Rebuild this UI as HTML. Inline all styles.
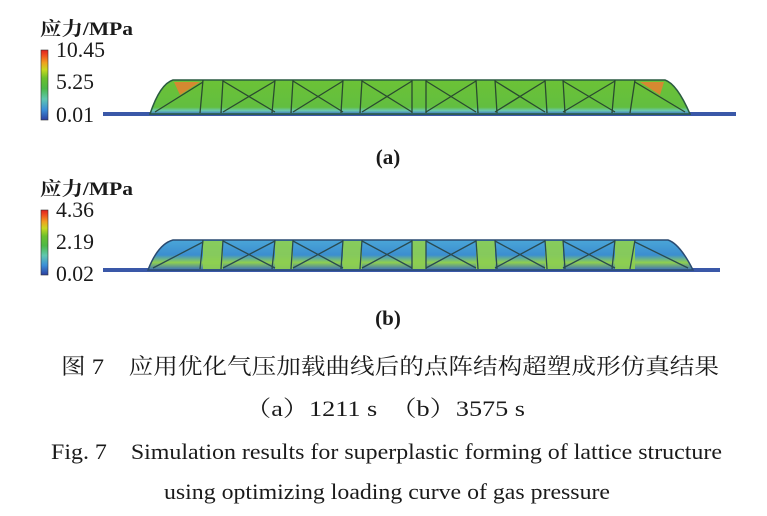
<!DOCTYPE html>
<html><head><meta charset="utf-8"><style>
body{margin:0;background:#fff;width:767px;height:516px;overflow:hidden;position:relative}
text{font-family:"Liberation Serif","Noto Serif CJK SC",serif;fill:#1a1a1a}
</style></head><body>
<svg width="767" height="516" style="position:absolute;left:0;top:0">
<defs>
<linearGradient id="cb1" x1="0" y1="1" x2="0" y2="0">
<stop offset="0" stop-color="#2c3fa0"/><stop offset="0.15" stop-color="#3a8fd8"/><stop offset="0.3" stop-color="#5fc7b0"/><stop offset="0.45" stop-color="#4cb848"/><stop offset="0.6" stop-color="#6cc02c"/><stop offset="0.72" stop-color="#c8d820"/><stop offset="0.82" stop-color="#f0a020"/><stop offset="0.92" stop-color="#f05020"/><stop offset="1" stop-color="#e02020"/>
</linearGradient>
<linearGradient id="ga" x1="0" y1="0" x2="0" y2="1">
<stop offset="0" stop-color="#6cc236"/><stop offset="0.8" stop-color="#62be40"/><stop offset="0.9" stop-color="#6ac8b0"/><stop offset="1" stop-color="#3a6cc0"/>
</linearGradient>
<linearGradient id="gb" x1="0" y1="0" x2="0" y2="1">
<stop offset="0" stop-color="#4aa6d8"/><stop offset="0.5" stop-color="#3c8ed0"/><stop offset="0.75" stop-color="#8fd050"/><stop offset="1" stop-color="#3a6cc0"/>
</linearGradient>
</defs>
<rect x="41" y="50" width="7" height="70" fill="url(#cb1)" stroke="#333" stroke-width="0.6"/>
<rect x="41" y="210" width="7" height="65" fill="url(#cb1)" stroke="#333" stroke-width="0.6"/>
<!-- (a) -->
<rect x="103" y="112" width="633" height="4" fill="#3a58a8"/>
<path d="M150,114 Q160,84 173,80 L665,80 Q677,84 690,114 Z" fill="url(#ga)" stroke="#2a5a40" stroke-width="1.5"/>
<path d="M174,82 L200,82 L180,95 Z" fill="#f07a30" opacity="0.8"/>
<path d="M664,82 L640,82 L660,95 Z" fill="#f07a30" opacity="0.8"/>
<g stroke="#2a4a30" stroke-width="1.3" fill="none">
<line x1="155" y1="112" x2="203" y2="82"/><line x1="685" y1="112" x2="635" y2="82"/>
<line x1="203" y1="80" x2="200" y2="113"/><line x1="223" y1="80" x2="221" y2="113"/><line x1="275" y1="80" x2="272" y2="113"/><line x1="293" y1="80" x2="291" y2="113"/><line x1="343" y1="80" x2="341" y2="113"/><line x1="362" y1="80" x2="360" y2="113"/><line x1="412" y1="80" x2="412" y2="113"/><line x1="426" y1="80" x2="426" y2="113"/><line x1="476" y1="80" x2="478" y2="113"/><line x1="495" y1="80" x2="497" y2="113"/><line x1="545" y1="80" x2="547" y2="113"/><line x1="563" y1="80" x2="565" y2="113"/><line x1="615" y1="80" x2="612" y2="113"/><line x1="635" y1="80" x2="630" y2="113"/>
<path d="M223,81 L275,112 M275,81 L223,112 M293,81 L343,112 M343,81 L293,112 M362,81 L412,112 M412,81 L362,112 M426,81 L476,112 M476,81 L426,112 M495,81 L545,112 M545,81 L495,112 M563,81 L615,112 M615,81 L563,112"/>
</g>
<!-- (b) -->
<rect x="103" y="268" width="617" height="4" fill="#3a58a8"/>
<path d="M148,270 Q158,244 173,240 L668,240 Q680,244 693,270 Z" fill="url(#gb)" stroke="#2a4a70" stroke-width="1.5"/>
<g fill="#8ed050" opacity="0.9">
<rect x="203" y="241" width="20" height="28"/><rect x="275" y="241" width="18" height="28"/><rect x="343" y="241" width="19" height="28"/><rect x="412" y="241" width="14" height="28"/><rect x="476" y="241" width="19" height="28"/><rect x="545" y="241" width="18" height="28"/><rect x="615" y="241" width="20" height="28"/>
</g>
<g stroke="#2a4a50" stroke-width="1.3" fill="none">
<line x1="153" y1="268" x2="203" y2="242"/><line x1="688" y1="268" x2="635" y2="242"/>
<line x1="203" y1="240" x2="200" y2="269"/><line x1="223" y1="240" x2="221" y2="269"/><line x1="275" y1="240" x2="272" y2="269"/><line x1="293" y1="240" x2="291" y2="269"/><line x1="343" y1="240" x2="341" y2="269"/><line x1="362" y1="240" x2="360" y2="269"/><line x1="412" y1="240" x2="412" y2="269"/><line x1="426" y1="240" x2="426" y2="269"/><line x1="476" y1="240" x2="478" y2="269"/><line x1="495" y1="240" x2="497" y2="269"/><line x1="545" y1="240" x2="547" y2="269"/><line x1="563" y1="240" x2="565" y2="269"/><line x1="615" y1="240" x2="612" y2="269"/><line x1="635" y1="240" x2="630" y2="269"/>
<path d="M223,241 L275,268 M275,241 L223,268 M293,241 L343,268 M343,241 L293,268 M362,241 L412,268 M412,241 L362,268 M426,241 L476,268 M476,241 L426,268 M495,241 L545,268 M545,241 L495,268 M563,241 L615,268 M615,241 L563,268"/>
</g>
<!-- labels -->
<text x="40" y="35" font-size="19" font-weight="bold" textLength="93" lengthAdjust="spacingAndGlyphs">应力/MPa</text>
<text x="56" y="57" font-size="22" textLength="49" lengthAdjust="spacingAndGlyphs">10.45</text>
<text x="56" y="89" font-size="22" textLength="38" lengthAdjust="spacingAndGlyphs">5.25</text>
<text x="56" y="122" font-size="22" textLength="38" lengthAdjust="spacingAndGlyphs">0.01</text>
<text x="388" y="164" font-size="21" font-weight="bold" text-anchor="middle">(a)</text>
<text x="40" y="195" font-size="19" font-weight="bold" textLength="93" lengthAdjust="spacingAndGlyphs">应力/MPa</text>
<text x="56" y="217" font-size="22" textLength="38" lengthAdjust="spacingAndGlyphs">4.36</text>
<text x="56" y="249" font-size="22" textLength="38" lengthAdjust="spacingAndGlyphs">2.19</text>
<text x="56" y="281" font-size="22" textLength="38" lengthAdjust="spacingAndGlyphs">0.02</text>
<text x="388" y="325" font-size="21" font-weight="bold" text-anchor="middle">(b)</text>
<!-- captions -->
<text x="61" y="374" font-size="22" textLength="658" lengthAdjust="spacingAndGlyphs">图 7　应用优化气压加载曲线后的点阵结构超塑成形仿真结果</text>
<text x="245" y="416" font-size="22" textLength="280" lengthAdjust="spacingAndGlyphs">（a）1211 s　（b）3575 s</text>
<text x="51" y="459" font-size="22" textLength="671" lengthAdjust="spacingAndGlyphs">Fig. 7&#160;&#160;&#160;&#160;Simulation results for superplastic forming of lattice structure</text>
<text x="164" y="499" font-size="22" textLength="446" lengthAdjust="spacingAndGlyphs">using optimizing loading curve of gas pressure</text>
</svg>
</body></html>
